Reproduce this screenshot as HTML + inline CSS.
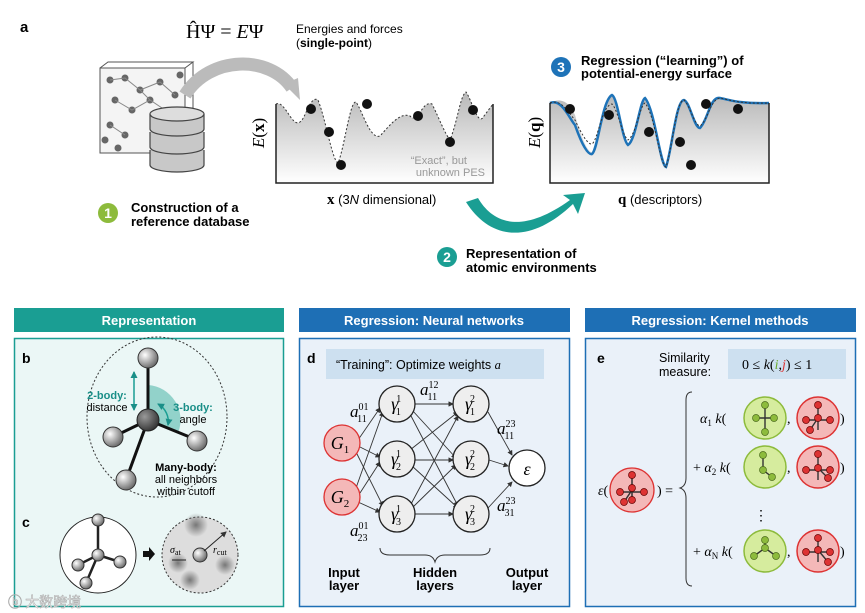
<!DOCTYPE html>
<html><head><meta charset="utf-8"><style>
body{margin:0;background:#fff}
svg{display:block;font-family:"Liberation Sans",Arial,sans-serif}
.s{font-family:"Liberation Serif",serif}
</style></head><body>
<svg width="865" height="613" viewBox="0 0 865 613" xmlns="http://www.w3.org/2000/svg">
<defs>
<linearGradient id="g" x1="0" y1="0" x2="0" y2="1"><stop offset="0" stop-color="#b8b8b8"/><stop offset="1" stop-color="#fff"/></linearGradient>
<radialGradient id="ball" cx="0.35" cy="0.35" r="0.7"><stop offset="0" stop-color="#fff"/><stop offset="1" stop-color="#666"/></radialGradient>
<radialGradient id="cball" cx="0.35" cy="0.35" r="0.7"><stop offset="0" stop-color="#999"/><stop offset="1" stop-color="#333"/></radialGradient>
<radialGradient id="blur"><stop offset="0" stop-color="#777"/><stop offset="1" stop-color="#777" stop-opacity="0"/></radialGradient>
<marker id="ar" markerWidth="6" markerHeight="6" refX="5" refY="3" orient="auto"><path d="M0,0L6,3L0,6z" fill="#333"/></marker>
<marker id="art" markerUnits="userSpaceOnUse" markerWidth="7" markerHeight="7" refX="6" refY="3.5" orient="auto-start-reverse"><path d="M0,0L7,3.5L0,7z" fill="#1a8f88"/></marker>
</defs>
<!-- top section -->
<text x="20" y="32" font-size="15" font-weight="bold">a</text>
<text x="186" y="38" class="s" font-size="20">ĤΨ = <tspan font-style="italic">E</tspan>Ψ</text>
<text x="296" y="33" font-size="12">Energies and forces</text>
<text x="296" y="47" font-size="12">(<tspan font-weight="bold">single-point</tspan>)</text>
<!-- crystal -->
<rect x="100" y="68" width="85" height="85" fill="#f4f4f4" stroke="#555"/>
<path d="M100,68 L108,62 L193,62 L185,68 M193,62 L193,145 L185,153" fill="none" stroke="#555"/>
<g fill="#666">
<circle cx="110" cy="80" r="3.5"/><circle cx="125" cy="78" r="3.5"/><circle cx="140" cy="90" r="3.5"/><circle cx="160" cy="82" r="3.5"/><circle cx="175" cy="95" r="3.5"/><circle cx="115" cy="100" r="3.5"/><circle cx="132" cy="110" r="3.5"/><circle cx="150" cy="100" r="3.5"/><circle cx="168" cy="112" r="3.5"/><circle cx="110" cy="125" r="3.5"/><circle cx="125" cy="135" r="3.5"/><circle cx="180" cy="75" r="3.5"/><circle cx="105" cy="140" r="3.5"/><circle cx="118" cy="148" r="3.5"/></g>
<path d="M110,80L125,78L140,90L160,82L175,95M115,100L132,110L150,100L168,112M110,125L125,135M140,90L150,100" stroke="#888" fill="none"/>
<!-- database -->
<g fill="#c8c8c8" stroke="#444" stroke-width="1.2">
<path d="M150,150 v15 a27,7 0 0 0 54,0 v-15"/>
<path d="M150,132 v15 a27,7 0 0 0 54,0 v-15"/>
<path d="M150,114 v15 a27,7 0 0 0 54,0 v-15"/>
<ellipse cx="177" cy="114" rx="27" ry="7" fill="#ddd"/>
</g>
<!-- gray arrow -->
<path d="M185,95 C210,55 270,55 292,88" stroke="#bbb" stroke-width="13" fill="none"/>
<path d="M284,84 L300,100 L298,78 z" fill="#bbb"/>
<!-- plot 1 -->
<path d="M276,104 C285,100 292,128 300,122 C306,118 310,95 318,100 C326,120 332,160 338,163 C344,150 350,100 356,102 C362,110 370,140 380,136 C390,125 400,112 410,116 C418,125 422,100 432,104 C440,120 444,132 450,140 C458,120 460,96 466,92 C472,100 478,128 484,116 L493,104 L493,183 L276,183 z" fill="url(#g)"/>
<path d="M276,104 C285,100 292,128 300,122 C306,118 310,95 318,100 C326,120 332,160 338,163 C344,150 350,100 356,102 C362,110 370,140 380,136 C390,125 400,112 410,116 C418,125 422,100 432,104 C440,120 444,132 450,140 C458,120 460,96 466,92 C472,100 478,128 484,116 L493,104" fill="none" stroke="#333" stroke-dasharray="2,2"/>
<path d="M276,104 V183 H493 V104" fill="none" stroke="#222" stroke-width="1.5"/>
<g fill="#111"><circle cx="311" cy="109" r="5"/><circle cx="329" cy="132" r="5"/><circle cx="341" cy="165" r="5"/><circle cx="367" cy="104" r="5"/><circle cx="418" cy="116" r="5"/><circle cx="450" cy="142" r="5"/><circle cx="473" cy="110" r="5"/></g>
<text x="467" y="164" font-size="11" fill="#999" text-anchor="end">“Exact”, but</text>
<text x="485" y="176" font-size="11" fill="#999" text-anchor="end">unknown PES</text>
<text transform="translate(264,148) rotate(-90)" class="s" font-size="17"><tspan font-style="italic">E</tspan>(<tspan font-weight="bold">x</tspan>)</text>
<text x="327" y="204" font-size="13"><tspan class="s" font-weight="bold" font-size="15">x</tspan> (3<tspan font-style="italic">N</tspan> dimensional)</text>
<!-- plot 2 -->
<path d="M550,103 C560,98 568,100 575,115 C582,140 588,152 592,152 C598,150 602,100 612,95 C618,98 622,140 628,145 C636,140 640,100 645,98 C655,110 660,165 666,167 C672,150 676,100 684,100 C690,102 694,128 700,128 C708,120 710,96 720,98 C730,100 740,104 769,103 L769,183 L550,183z" fill="url(#g)"/>
<path d="M550,103 C562,98 570,120 575,125 C582,145 588,155 592,154 C598,150 602,100 612,95 C618,98 622,140 628,145 C636,140 640,100 645,98 C655,110 660,165 666,167 C672,150 676,100 684,100 C690,102 694,128 700,128 C708,120 710,96 720,98 C730,100 740,104 769,103" fill="none" stroke="#1e73b8" stroke-width="2.5"/>
<path d="M550,103 C562,98 570,115 575,120 C582,135 588,145 592,144 C598,140 602,105 612,104 C618,110 622,135 628,140 C636,135 640,105 645,103 C655,115 660,165 666,167 C672,150 676,100 684,100 C690,105 694,125 700,126 C708,120 710,100 720,98 C730,100 740,104 769,103" fill="none" stroke="#333" stroke-dasharray="2,2"/>
<path d="M550,103 V183 H769 V103" fill="none" stroke="#222" stroke-width="1.5"/>
<g fill="#111"><circle cx="570" cy="109" r="5"/><circle cx="609" cy="115" r="5"/><circle cx="649" cy="132" r="5"/><circle cx="680" cy="142" r="5"/><circle cx="691" cy="165" r="5"/><circle cx="706" cy="104" r="5"/><circle cx="738" cy="109" r="5"/></g>
<text transform="translate(540,148) rotate(-90)" class="s" font-size="17"><tspan font-style="italic">E</tspan>(<tspan font-weight="bold">q</tspan>)</text>
<text x="618" y="204" font-size="13"><tspan class="s" font-weight="bold" font-size="15">q</tspan> (descriptors)</text>
<circle cx="561" cy="67" r="10" fill="#1e73b8"/><text x="561" y="72" font-size="14" font-weight="bold" fill="#fff" text-anchor="middle">3</text>
<text x="581" y="65" font-size="13" font-weight="bold">Regression (“learning”) of</text>
<text x="581" y="78" font-size="13" font-weight="bold">potential-energy surface</text>
<!-- step 1 -->
<circle cx="108" cy="213" r="10" fill="#8dbb3c"/><text x="108" y="218" font-size="14" font-weight="bold" fill="#fff" text-anchor="middle">1</text>
<text x="131" y="212" font-size="13" font-weight="bold">Construction of a</text>
<text x="131" y="226" font-size="13" font-weight="bold">reference database</text>
<!-- teal arrow -->
<path d="M466,202 L478,198 C492,222 520,236 570,200 L563,195 L585,193 L578,214 L573,204 C530,245 490,240 466,202 z" fill="#1a9e93"/>
<circle cx="447" cy="257" r="10" fill="#1a9e93"/><text x="447" y="262" font-size="14" font-weight="bold" fill="#fff" text-anchor="middle">2</text>
<text x="466" y="258" font-size="13" font-weight="bold">Representation of</text>
<text x="466" y="272" font-size="13" font-weight="bold">atomic environments</text>

<!-- panel headers -->
<rect x="14" y="308" width="270" height="24" fill="#1a9e93"/>
<text x="149" y="325" font-size="13" font-weight="bold" fill="#fff" text-anchor="middle">Representation</text>
<rect x="299" y="308" width="271" height="24" fill="#1e6fb5"/>
<text x="434" y="325" font-size="13" font-weight="bold" fill="#fff" text-anchor="middle">Regression: Neural networks</text>
<rect x="585" y="308" width="271" height="24" fill="#1e6fb5"/>
<text x="720" y="325" font-size="13" font-weight="bold" fill="#fff" text-anchor="middle">Regression: Kernel methods</text>
<rect x="14.5" y="338.5" width="269" height="268" fill="#ebf7f6" stroke="#1a9e93" stroke-width="1.5"/>
<rect x="299.5" y="338.5" width="270" height="268" fill="#eaf1f9" stroke="#1e6fb5" stroke-width="1.5"/>
<rect x="585.5" y="338.5" width="270" height="268" fill="#eaf1f9" stroke="#1e6fb5" stroke-width="1.5"/>

<!-- panel b -->
<text x="22" y="363" font-size="14" font-weight="bold">b</text>
<ellipse cx="157" cy="417" rx="70" ry="80" fill="none" stroke="#333" stroke-dasharray="2,2"/>
<path d="M148,385 A35,35 0 0 1 178,433 L148,420z" fill="#6cc2b8" opacity="0.7"/>
<path d="M148,358 V420 L113,437 M148,420 L197,440 M148,420 L126,480" stroke="#111" stroke-width="3" fill="none"/>
<path d="M134,372 V410" stroke="#1a9e93" stroke-width="1.5" marker-end="url(#art)" marker-start="url(#art)"/>
<path d="M158,404 A20,20 0 0 1 168,425" stroke="#1a9e93" stroke-width="1.5" fill="none" marker-end="url(#art)" marker-start="url(#art)"/>
<circle cx="148" cy="358" r="10" fill="url(#ball)" stroke="#333"/>
<circle cx="113" cy="437" r="10" fill="url(#ball)" stroke="#333"/>
<circle cx="197" cy="441" r="10" fill="url(#ball)" stroke="#333"/>
<circle cx="126" cy="480" r="10" fill="url(#ball)" stroke="#333"/>
<circle cx="148" cy="420" r="11" fill="url(#cball)" stroke="#222"/>
<text x="107" y="399" font-size="11" font-weight="bold" fill="#1a8f88" text-anchor="middle">2-body:</text>
<text x="107" y="411" font-size="11" text-anchor="middle">distance</text>
<text x="193" y="411" font-size="11" font-weight="bold" fill="#1a8f88" text-anchor="middle">3-body:</text>
<text x="193" y="423" font-size="11" text-anchor="middle">angle</text>
<text x="186" y="471" font-size="11" font-weight="bold" text-anchor="middle">Many-body:</text>
<text x="186" y="483" font-size="11" text-anchor="middle">all neighbors</text>
<text x="186" y="495" font-size="11" text-anchor="middle">within cutoff</text>
<!-- panel c -->
<text x="22" y="527" font-size="14" font-weight="bold">c</text>
<circle cx="98" cy="555" r="38" fill="#fff" stroke="#222"/>
<path d="M98,520 V555 L78,565 M98,555 L120,562 M98,555 L86,583" stroke="#222" stroke-width="2.5" fill="none"/>
<circle cx="98" cy="520" r="6" fill="url(#ball)" stroke="#333"/><circle cx="78" cy="565" r="6" fill="url(#ball)" stroke="#333"/><circle cx="120" cy="562" r="6" fill="url(#ball)" stroke="#333"/><circle cx="86" cy="583" r="6" fill="url(#ball)" stroke="#333"/><circle cx="98" cy="555" r="6" fill="url(#ball)" stroke="#333"/>
<path d="M143,551 h6 v-4 l6,7 l-6,7 v-4 h-6z" fill="#111"/>
<circle cx="200" cy="555" r="38" fill="#ddd" stroke="#333" stroke-dasharray="2,2"/>
<circle cx="196" cy="525" r="12" fill="url(#blur)"/><circle cx="178" cy="563" r="10" fill="url(#blur)"/><circle cx="190" cy="580" r="10" fill="url(#blur)"/><circle cx="225" cy="565" r="10" fill="url(#blur)"/>
<circle cx="200" cy="555" r="7" fill="url(#ball)" stroke="#333"/>
<path d="M204,551 L226,532" stroke="#222" marker-end="url(#ar)"/>
<path d="M172,560 h14" stroke="#222"/>
<text x="170" y="553" font-size="10" class="s" font-style="italic">σ<tspan font-size="8" font-style="normal" dy="2">at</tspan></text>
<text x="213" y="553" font-size="10" class="s" font-style="italic">r<tspan font-size="8" font-style="normal" dy="2">cut</tspan></text>
<text x="8" y="607" font-size="14" fill="#fff" stroke="#aaa" stroke-width="0.6" font-family="'Noto Sans CJK SC',sans-serif">ⓑ 大数跨境</text>

<!-- panel d -->
<text x="307" y="363" font-size="14" font-weight="bold">d</text>
<rect x="326" y="349" width="218" height="30" fill="#cde0f0"/>
<text x="336" y="369" font-size="12.5">“Training”: Optimize weights <tspan class="s" font-style="italic">a</tspan></text>
<g stroke="#333" stroke-width="0.9" marker-end="url(#ar)">
<path d="M358,440 L380,408"/><path d="M360,447 L380,457"/><path d="M356,452 L383,506"/>
<path d="M356,488 L383,412"/><path d="M360,493 L380,462"/><path d="M358,502 L380,512"/>
<path d="M414,404 L453,404"/><path d="M412,410 L456,458"/><path d="M410,414 L458,506"/>
<path d="M410,450 L458,412"/><path d="M414,460 L453,460"/><path d="M412,466 L458,508"/>
<path d="M410,506 L458,416"/><path d="M412,508 L456,465"/><path d="M414,514 L453,514"/>
<path d="M488,412 L512,455"/><path d="M489,460 L508,466"/><path d="M488,508 L512,482"/>
</g>
<g stroke="#222" stroke-width="1.3">
<circle cx="342" cy="443" r="18" fill="#f4b8b8" stroke="#d33"/><circle cx="342" cy="497" r="18" fill="#f4b8b8" stroke="#d33"/>
<circle cx="397" cy="404" r="18" fill="#eee"/><circle cx="397" cy="459" r="18" fill="#eee"/><circle cx="397" cy="514" r="18" fill="#eee"/>
<circle cx="471" cy="404" r="18" fill="#eee"/><circle cx="471" cy="459" r="18" fill="#eee"/><circle cx="471" cy="514" r="18" fill="#eee"/>
<circle cx="527" cy="468" r="18" fill="#fff"/>
</g>
<g class="s" font-style="italic" font-size="18" text-anchor="middle">
<text x="340" y="449">G<tspan font-size="11" font-style="normal" dy="4">1</tspan></text>
<text x="340" y="503">G<tspan font-size="11" font-style="normal" dy="4">2</tspan></text>
<text x="396" y="410">γ<tspan font-size="10" font-style="normal" dx="-2" dy="-8">1</tspan><tspan font-size="10" font-style="normal" dx="-5" dy="13">1</tspan></text>
<text x="396" y="465">γ<tspan font-size="10" font-style="normal" dx="-2" dy="-8">1</tspan><tspan font-size="10" font-style="normal" dx="-5" dy="13">2</tspan></text>
<text x="396" y="520">γ<tspan font-size="10" font-style="normal" dx="-2" dy="-8">1</tspan><tspan font-size="10" font-style="normal" dx="-5" dy="13">3</tspan></text>
<text x="470" y="410">γ<tspan font-size="10" font-style="normal" dx="-2" dy="-8">2</tspan><tspan font-size="10" font-style="normal" dx="-5" dy="13">1</tspan></text>
<text x="470" y="465">γ<tspan font-size="10" font-style="normal" dx="-2" dy="-8">2</tspan><tspan font-size="10" font-style="normal" dx="-5" dy="13">2</tspan></text>
<text x="470" y="520">γ<tspan font-size="10" font-style="normal" dx="-2" dy="-8">2</tspan><tspan font-size="10" font-style="normal" dx="-5" dy="13">3</tspan></text>
<text x="527" y="475">ε</text>
</g>
<g class="s" font-size="17" font-style="italic">
<text x="350" y="417">a<tspan font-size="10" font-style="normal" dy="-7">01</tspan><tspan font-size="10" font-style="normal" dx="-11" dy="12">11</tspan></text>
<text x="420" y="395">a<tspan font-size="10" font-style="normal" dy="-7">12</tspan><tspan font-size="10" font-style="normal" dx="-11" dy="12">11</tspan></text>
<text x="497" y="434">a<tspan font-size="10" font-style="normal" dy="-7">23</tspan><tspan font-size="10" font-style="normal" dx="-11" dy="12">11</tspan></text>
<text x="497" y="511">a<tspan font-size="10" font-style="normal" dy="-7">23</tspan><tspan font-size="10" font-style="normal" dx="-11" dy="12">31</tspan></text>
<text x="350" y="536">a<tspan font-size="10" font-style="normal" dy="-7">01</tspan><tspan font-size="10" font-style="normal" dx="-11" dy="12">23</tspan></text>
</g>
<path d="M380,548 q0,7 10,7 h35 q8,0 10,7 q2,-7 10,-7 h35 q10,0 10,-7" fill="none" stroke="#333"/>
<g font-size="13" font-weight="bold" text-anchor="middle">
<text x="344" y="577">Input</text><text x="344" y="590">layer</text>
<text x="435" y="577">Hidden</text><text x="435" y="590">layers</text>
<text x="527" y="577">Output</text><text x="527" y="590">layer</text>
</g>

<!-- panel e -->
<text x="597" y="363" font-size="14" font-weight="bold">e</text>
<text x="659" y="362" font-size="12.5">Similarity</text>
<text x="659" y="376" font-size="12.5">measure:</text>
<rect x="728" y="349" width="118" height="30" fill="#cde0f0"/>
<text x="742" y="369" font-size="14" class="s">0 ≤ <tspan font-style="italic">k</tspan>(<tspan fill="#6aab2e" font-style="italic">i</tspan>,<tspan fill="#d33" font-style="italic">j</tspan>) ≤ 1</text>
<path d="M692,392 q-6,0 -6,8 v78 q0,8 -6,10 q6,2 6,10 v80 q0,8 6,8" fill="none" stroke="#333"/>
<text x="598" y="495" class="s" font-size="14"><tspan font-style="italic">ε</tspan>(</text>
<text x="657" y="495" class="s" font-size="14">) =</text>
<g><circle cx="632" cy="490" r="22" fill="#f4b8b8" stroke="#d33" stroke-width="1.3"/>
<path d="M632,475 V500 M620,492 H644 M632,490 L624,502" stroke="#333" stroke-width="1.5"/>
<g fill="#d33" stroke="#600" stroke-width="0.7"><circle cx="632" cy="475" r="3.5"/><circle cx="620" cy="492" r="3.5"/><circle cx="644" cy="492" r="3.5"/><circle cx="624" cy="502" r="3.5"/><circle cx="632" cy="500" r="3.5"/><circle cx="632" cy="488" r="3.5"/></g></g>
<g class="s" font-size="14">
<text x="700" y="423"><tspan font-style="italic">α</tspan><tspan font-size="9" dy="3">1</tspan><tspan dy="-3" font-style="italic"> k</tspan>(</text>
<text x="693" y="472">+ <tspan font-style="italic">α</tspan><tspan font-size="9" dy="3">2</tspan><tspan dy="-3" font-style="italic"> k</tspan>(</text>
<text x="693" y="556">+ <tspan font-style="italic">α</tspan><tspan font-size="9" dy="3">N</tspan><tspan dy="-3" font-style="italic"> k</tspan>(</text>
<text x="787" y="423">,</text><text x="787" y="472">,</text><text x="787" y="556">,</text>
<text x="840" y="423">)</text><text x="840" y="472">)</text><text x="840" y="556">)</text>
<text x="761" y="520" text-anchor="middle">⋮</text>
</g>
<g fill="#d6ec9e" stroke="#8dbb3c" stroke-width="1.5">
<circle cx="765" cy="418" r="21"/><circle cx="765" cy="467" r="21"/><circle cx="765" cy="551" r="21"/></g>
<g fill="#f4b8b8" stroke="#d33" stroke-width="1.5">
<circle cx="818" cy="418" r="21"/><circle cx="818" cy="467" r="21"/><circle cx="818" cy="551" r="21"/></g>
<g stroke="#333" stroke-width="1.4" fill="none">
<path d="M765,405 V432 M756,418 H774"/><path d="M763,455 V470 L772,477"/><path d="M754,556 L765,548 L776,556 M765,548 V540"/>
<path d="M818,405 V430 M806,420 H830 M818,418 L810,430"/><path d="M818,454 V480 M806,470 H830 M818,468 L828,478"/><path d="M818,538 V562 M806,552 H830 M818,550 L828,562"/>
</g>
<g fill="#8dbb3c" stroke="#4a6a1a" stroke-width="0.7">
<circle cx="765" cy="405" r="3.5"/><circle cx="765" cy="432" r="3.5"/><circle cx="756" cy="418" r="3.5"/><circle cx="774" cy="418" r="3.5"/>
<circle cx="763" cy="455" r="3.5"/><circle cx="763" cy="470" r="3.5"/><circle cx="772" cy="477" r="3.5"/>
<circle cx="754" cy="556" r="3.5"/><circle cx="765" cy="548" r="3.5"/><circle cx="776" cy="556" r="3.5"/><circle cx="765" cy="540" r="3.5"/></g>
<g fill="#d33" stroke="#600" stroke-width="0.7">
<circle cx="818" cy="405" r="3.5"/><circle cx="806" cy="420" r="3.5"/><circle cx="830" cy="420" r="3.5"/><circle cx="810" cy="430" r="3.5"/><circle cx="818" cy="418" r="3.5"/>
<circle cx="818" cy="454" r="3.5"/><circle cx="806" cy="470" r="3.5"/><circle cx="830" cy="470" r="3.5"/><circle cx="828" cy="478" r="3.5"/><circle cx="818" cy="468" r="3.5"/>
<circle cx="818" cy="538" r="3.5"/><circle cx="806" cy="552" r="3.5"/><circle cx="830" cy="552" r="3.5"/><circle cx="828" cy="562" r="3.5"/><circle cx="818" cy="550" r="3.5"/></g>
</svg>
</body></html>
